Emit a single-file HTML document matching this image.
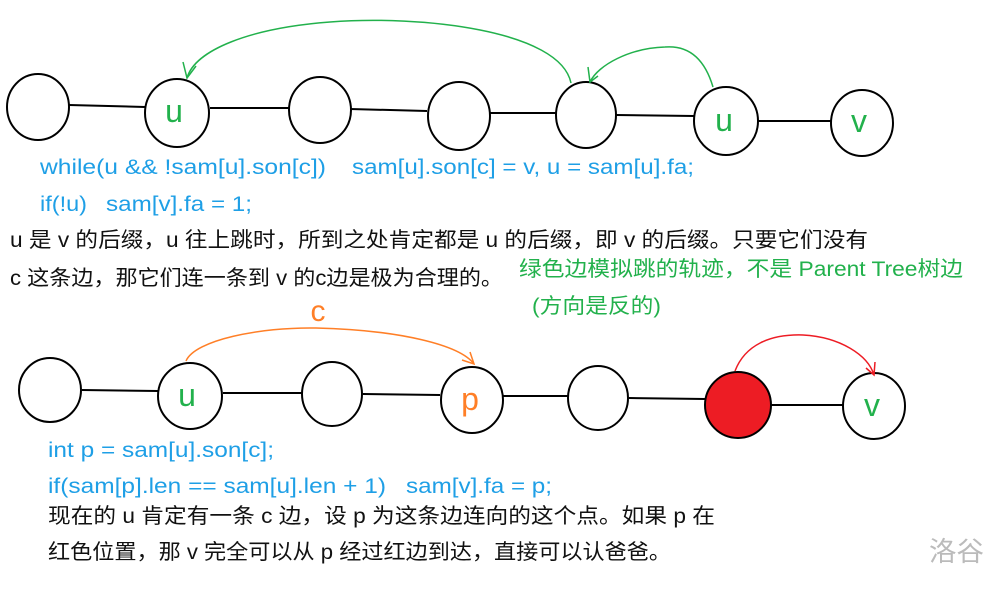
<!DOCTYPE html>
<html><head><meta charset="utf-8"><style>
html,body{margin:0;padding:0;background:#fff;}
svg{display:block;}
text{font-family:"Liberation Sans","Noto Sans CJK SC",sans-serif;}
</style></head><body>
<svg width="1000" height="599" viewBox="0 0 1000 599" xmlns="http://www.w3.org/2000/svg">
<g stroke="#000" stroke-width="2" fill="none">
<line x1="69" y1="105" x2="145" y2="107"/>
<line x1="210" y1="108" x2="289" y2="108"/>
<line x1="350" y1="109" x2="427" y2="111"/>
<line x1="490" y1="113" x2="556" y2="113"/>
<line x1="616" y1="115" x2="694" y2="116"/>
<line x1="758" y1="121" x2="831" y2="121"/>
<ellipse cx="38" cy="107" rx="31" ry="33"/>
<ellipse cx="177" cy="113" rx="32" ry="34"/>
<ellipse cx="320" cy="110" rx="31" ry="33"/>
<ellipse cx="459" cy="116" rx="31" ry="34"/>
<ellipse cx="586" cy="115" rx="30" ry="33"/>
<ellipse cx="726" cy="121" rx="32" ry="34"/>
<ellipse cx="862" cy="123" rx="31" ry="33"/>

<line x1="82" y1="390" x2="158" y2="391"/>
<line x1="223" y1="393" x2="302" y2="393"/>
<line x1="363" y1="394" x2="440" y2="395"/>
<line x1="503" y1="396" x2="568" y2="396"/>
<line x1="629" y1="398" x2="705" y2="399"/>
<line x1="771" y1="405" x2="844" y2="405"/>
<ellipse cx="50" cy="390" rx="31" ry="32"/>
<ellipse cx="190" cy="396" rx="32" ry="33"/>
<ellipse cx="332" cy="394" rx="30" ry="32"/>
<ellipse cx="472" cy="400" rx="31" ry="33"/>
<ellipse cx="598" cy="398" rx="30" ry="32"/>
<ellipse cx="738" cy="405" rx="33" ry="33" fill="#ed1c24"/>
<ellipse cx="874" cy="406" rx="31" ry="33"/>
</g>
<g fill="none" stroke-width="1.5">
<path d="M571 83 C560 30 420 15 330 22 C250 28 195 50 187 78" stroke="#22b14c"/>
<path d="M183 62 L187 78 L196 66" stroke="#22b14c"/>
<path d="M713 87 C705 60 690 45 665 47 C630 48 598 65 590 82" stroke="#22b14c"/>
<path d="M588 67 L590 82 L598 76" stroke="#22b14c"/>
<path d="M186 361 C195 340 260 327 316 328 C400 330 460 345 474 364" stroke="#ff7f27"/>
<path d="M462 360 L474 364 L470 352" stroke="#ff7f27"/>
<path d="M735 371 C745 345 770 334 803 335 C840 337 868 355 874 375" stroke="#ed1c24"/>
<path d="M866 368 L874 375 L875 362" stroke="#ed1c24"/>
</g>
<g font-size="32" fill="#22b14c" text-anchor="middle">
<text x="174" y="122">u</text>
<text x="724" y="131">u</text>
<text x="859" y="132">v</text>
<text x="187" y="406">u</text>
<text x="872" y="416">v</text>
</g>
<text x="470" y="410" font-size="32" fill="#ff7f27" text-anchor="middle">p</text>
<text x="318" y="321" font-size="30" fill="#ff7f27" text-anchor="middle">c</text>
<g font-size="21" fill="#1e9fe6" lengthAdjust="spacingAndGlyphs">
<text x="40" y="174" textLength="286" lengthAdjust="spacingAndGlyphs">while(u &amp;&amp; !sam[u].son[c])</text>
<text x="352" y="174" textLength="342" lengthAdjust="spacingAndGlyphs">sam[u].son[c] = v, u = sam[u].fa;</text>
<text x="40" y="211" textLength="47" lengthAdjust="spacingAndGlyphs">if(!u)</text>
<text x="106" y="211" textLength="146" lengthAdjust="spacingAndGlyphs">sam[v].fa = 1;</text>
<text x="48" y="457" textLength="226" lengthAdjust="spacingAndGlyphs">int p = sam[u].son[c];</text>
<text x="48" y="493" textLength="338" lengthAdjust="spacingAndGlyphs">if(sam[p].len == sam[u].len + 1)</text>
<text x="406" y="493" textLength="146" lengthAdjust="spacingAndGlyphs">sam[v].fa = p;</text>
</g>
<g font-size="21" fill="#111">
<text x="10" y="247" textLength="858" lengthAdjust="spacingAndGlyphs">u 是 v 的后缀，u 往上跳时，所到之处肯定都是 u 的后缀，即 v 的后缀。只要它们没有</text>
<text x="10" y="285" textLength="493" lengthAdjust="spacingAndGlyphs">c 这条边，那它们连一条到 v 的c边是极为合理的。</text>
<text x="48" y="523" textLength="667" lengthAdjust="spacingAndGlyphs">现在的 u 肯定有一条 c 边，设 p 为这条边连向的这个点。如果 p 在</text>
<text x="48" y="559" textLength="623" lengthAdjust="spacingAndGlyphs">红色位置，那 v 完全可以从 p 经过红边到达，直接可以认爸爸。</text>
</g>
<g font-size="21" fill="#22b14c">
<text x="519" y="276" textLength="444" lengthAdjust="spacingAndGlyphs">绿色边模拟跳的轨迹，不是 Parent Tree树边</text>
<text x="532" y="313" textLength="129" lengthAdjust="spacingAndGlyphs">(方向是反的)</text>
</g>
<text x="929" y="561" font-size="27" fill="#bbb" textLength="55" lengthAdjust="spacingAndGlyphs">洛谷</text>
</svg>
</body></html>
